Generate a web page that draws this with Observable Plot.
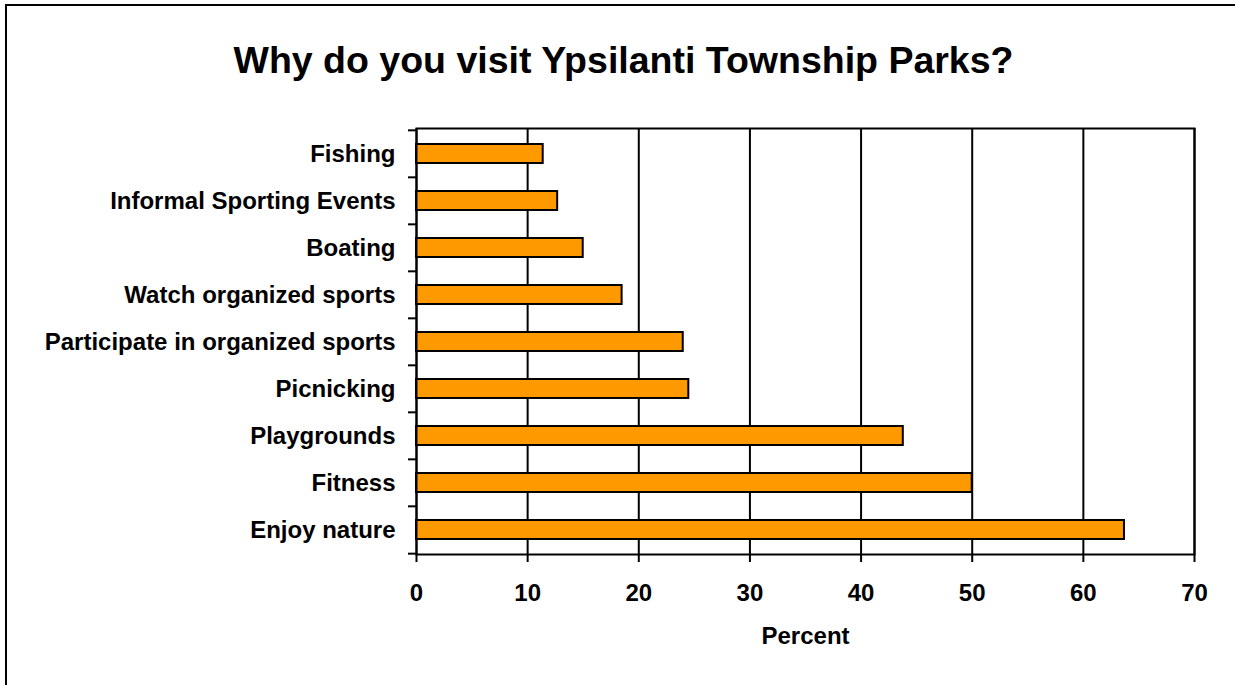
<!DOCTYPE html>
<html>
<head>
<meta charset="utf-8">
<script src="https://cdn.jsdelivr.net/npm/d3@7"></script>
<script src="https://cdn.jsdelivr.net/npm/@observablehq/plot@0.6"></script>
<style>
  html, body { margin: 0; padding: 0; background: #fff; overflow: hidden; width: 1235px; height: 685px; }
  #frame { position: absolute; left: 5px; top: 4px; width: 1230px; height: 681px; border-left: 2px solid #000; border-top: 2px solid #000; box-sizing: border-box; }
  #chart { position: absolute; left: 0; top: 0; width: 1235px; }
  #title { width: 1247px; height: 100px; box-sizing: border-box; padding-top: 42px; text-align: center;
           font-family: "Liberation Sans", Arial, sans-serif; font-weight: bold; font-size: 37.5px; line-height: 37px; color: #000; white-space: nowrap; }
  svg { display: block; }
</style>
</head>
<body>
<div id="frame"></div>
<div id="chart">
  <div id="title">Why do you visit Ypsilanti Township Parks?</div>
</div>
<script>
const categories = ["Fishing", "Informal Sporting Events", "Boating", "Watch organized sports",
  "Participate in organized sports", "Picnicking", "Playgrounds", "Fitness", "Enjoy nature"];
const values = [11.4, 12.7, 15.0, 18.5, 24.0, 24.5, 43.8, 50.0, 63.7];
const xTicks = [0, 10, 20, 30, 40, 50, 60, 70];

const data = categories.map((c, i) => ({category: c, value: values[i]}));

const H = 585, MT = 28, MB = 131;
const step = (H - MT - MB) / categories.length;

const chart = Plot.plot({
  width: 1235,
  height: H,
  marginTop: MT,
  marginBottom: MB,
  marginLeft: 416,
  marginRight: 41,
  style: {fontFamily: "'Liberation Sans', Arial, sans-serif", fontSize: "24px", fontWeight: "bold", color: "#000", background: "transparent", overflow: "visible"},
  x: {domain: [0, 70], ticks: xTicks, label: "Percent"},
  y: {domain: categories, paddingInner: 0.6, paddingOuter: 0.3, label: null},
  marks: [
    Plot.gridX(xTicks, {stroke: "#000", strokeOpacity: 1, strokeWidth: 2}),
    Plot.barX(data, {x: "value", y: "category", fill: "#FF9900", stroke: "#000", strokeWidth: 2}),
    Plot.frame({stroke: "#000", strokeWidth: 2}),
    Plot.axisX(xTicks, {tickSize: 8, tickPadding: 21, strokeWidth: 2, fontSize: 24,
      label: "Percent", labelAnchor: "center", labelArrow: "none", labelOffset: 89}),
    Plot.axisY({tickSize: 0, tickPadding: 21, fontSize: 24, label: null}),
    Plot.axisY({tickSize: 8, tickFormat: () => "", dy: -step / 2, strokeWidth: 2, label: null}),
    Plot.axisY([categories[categories.length - 1]], {tickSize: 8, tickFormat: () => "", dy: step / 2, strokeWidth: 2, label: null})
  ]
});
document.getElementById("chart").appendChild(chart);
</script>
</body>
</html>
